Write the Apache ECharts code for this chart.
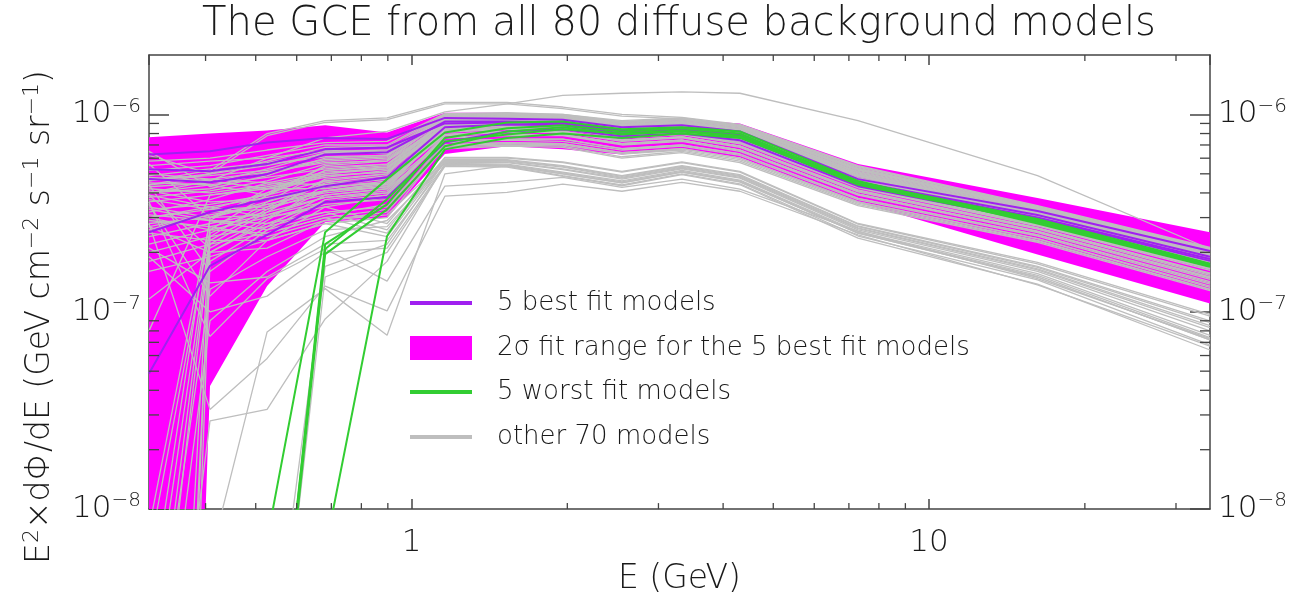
<!DOCTYPE html>
<html><head><meta charset="utf-8">
<script src="https://cdn.jsdelivr.net/npm/echarts@6/dist/echarts.min.js"></script>
<style>html,body{margin:0;padding:0;background:#fff}#c{width:1299px;height:601px}</style>
</head><body><div id="c"></div>
<script>
// values in units of 1e-7 GeV cm^-2 s^-1 sr^-1
const UNIT = 1e-7;
const energies = [0.311, 0.408, 0.526, 0.681, 0.897, 1.16, 1.53, 1.96, 2.55, 3.33, 4.31, 7.29, 16.2, 34.9];

const bestFitModels = [
  [6.27, 6.5, 7.2, 7.6, 7.5, 9.6, 9.5, 9.4, 8.6, 8.8, 8.2, 4.7, 3.24, 2.03],
  [4.7, 4.53, 4.98, 6.27, 6.43, 9.2, 9.2, 9.1, 8.3, 8.5, 7.9, 4.53, 3.09, 1.9],
  [2.53, 3.2, 3.72, 4.33, 4.8, 8.6, 8.9, 8.8, 8.0, 8.3, 7.65, 4.43, 2.98, 1.81],
  [0.486, 1.71, 2.45, 3.6, 3.8, 7.2, 8.2, 8.4, 7.75, 8.0, 7.4, 4.33, 2.88, 1.73],
  [5.27, 5.15, 5.6, 6.65, 6.8, 9.0, 9.1, 9.0, 8.2, 8.4, 7.8, 4.48, 3.0, 1.85]
];

const worstFitModels = [
  [0.001, 0.001, 0.07, 2.53, 4.7, 8.1, 9.1, 9.2, 8.4, 8.6, 8.2, 4.6, 2.8, 1.69],
  [0.001, 0.001, 0.004, 2.08, 3.72, 7.3, 7.9, 8.4, 8.0, 8.3, 7.8, 4.55, 2.95, 1.75],
  [0.001, 0.001, 0.004, 2.2, 3.5, 7.6, 8.5, 8.8, 8.2, 8.5, 8.0, 4.5, 2.9, 1.72],
  [0.001, 0.001, 0.0035, 1.96, 3.3, 6.9, 8.2, 8.6, 7.9, 8.2, 7.7, 4.4, 2.85, 1.7],
  [0.001, 0.001, 0.001, 0.062, 2.42, 6.65, 7.6, 8.0, 7.6, 8.0, 7.6, 4.5, 2.9, 1.74]
];

const otherModels = [
  [5.8, 6.0, 6.6, 7.2, 7.3, 10.1, 10.2, 10.0, 9.3, 9.6, 8.8, 5.4, 3.4, 2.1],
  [5.2, 5.5, 6.2, 7.0, 7.0, 10.0, 10.1, 9.9, 9.2, 9.5, 8.7, 5.35, 3.35, 2.08],
  [4.6, 5.0, 5.8, 6.8, 6.9, 9.8, 9.9, 9.8, 9.0, 9.3, 8.5, 5.2, 3.3, 2.05],
  [4.3, 4.5, 5.3, 6.4, 6.5, 9.7, 9.8, 9.7, 8.9, 9.2, 8.4, 5.15, 3.28, 2.02],
  [4.0, 4.2, 4.9, 6.0, 6.2, 9.5, 9.7, 9.6, 8.8, 9.1, 8.3, 5.0, 3.2, 2.0],
  [3.8, 4.1, 4.6, 5.6, 5.9, 9.4, 9.6, 9.5, 8.7, 9.0, 8.2, 4.95, 3.18, 1.97],
  [4.5, 4.4, 4.8, 5.3, 5.6, 9.3, 9.5, 9.4, 8.6, 8.9, 8.1, 4.9, 3.15, 1.95],
  [4.2, 4.0, 4.4, 5.0, 5.4, 9.2, 9.4, 9.3, 8.5, 8.8, 8.0, 4.85, 3.1, 1.93],
  [3.6, 3.9, 4.2, 4.8, 5.2, 9.0, 9.3, 9.2, 8.4, 8.7, 7.9, 4.75, 3.05, 1.9],
  [3.3, 3.5, 3.9, 4.6, 5.0, 8.9, 9.2, 9.1, 8.3, 8.6, 7.8, 4.7, 3.0, 1.86],
  [5.0, 4.7, 4.5, 4.4, 4.8, 8.8, 9.1, 9.0, 8.2, 8.5, 7.7, 4.6, 2.95, 1.8],
  [4.8, 4.6, 4.2, 4.2, 4.6, 8.7, 9.0, 8.9, 8.1, 8.4, 7.6, 4.55, 2.92, 1.78],
  [3.0, 3.4, 3.8, 4.3, 4.5, 8.5, 8.8, 8.8, 8.0, 8.3, 7.5, 4.45, 2.85, 1.72],
  [2.7, 3.1, 3.5, 4.0, 4.3, 8.4, 8.7, 8.7, 7.9, 8.2, 7.4, 4.4, 2.8, 1.7],
  [6.2, 5.0, 5.5, 6.3, 6.4, 9.8, 10.0, 9.8, 9.1, 9.4, 8.6, 5.25, 3.32, 2.06],
  [6.5, 4.3, 5.1, 5.8, 6.0, 9.6, 9.8, 9.6, 8.9, 9.2, 8.4, 5.05, 3.22, 2.0],
  [0.02, 2.4, 3.6, 5.2, 5.5, 9.3, 9.5, 9.4, 8.6, 8.9, 8.1, 4.9, 3.15, 1.95],
  [0.005, 2.2, 3.2, 4.7, 5.0, 9.0, 9.3, 9.2, 8.4, 8.7, 7.9, 4.75, 3.05, 1.9],
  [0.000001, 2.0, 2.9, 4.4, 4.7, 8.8, 9.1, 9.0, 8.2, 8.5, 7.7, 4.6, 2.95, 1.8],
  [0.06, 2.6, 3.9, 5.5, 5.8, 9.5, 9.7, 9.6, 8.8, 9.1, 8.3, 5.0, 3.2, 2.0],
  [0.00000001, 1.8, 2.7, 3.9, 4.2, 8.5, 8.8, 8.8, 8.0, 8.3, 7.5, 4.45, 2.85, 1.72],
  [0.01, 2.3, 3.3, 4.5, 4.9, 8.2, 8.5, 8.5, 7.7, 8.0, 7.2, 4.3, 2.75, 1.65],
  [0.08, 2.9, 4.2, 5.0, 5.3, 9.2, 9.4, 9.3, 8.5, 8.8, 8.0, 4.85, 3.1, 1.92],
  [0.0000001, 2.5, 3.4, 4.6, 4.4, 8.3, 8.6, 8.5, 7.8, 8.1, 7.3, 4.35, 2.78, 1.67],
  [3.9, 2.1, 3.0, 4.1, 4.4, 8.1, 8.4, 8.4, 7.6, 7.9, 7.1, 4.25, 2.72, 1.62],
  [4.4, 1.6, 2.6, 3.7, 4.0, 7.9, 8.2, 8.2, 7.4, 7.7, 6.9, 4.1, 2.65, 1.55],
  [3.5, 1.2, 2.3, 3.4, 3.8, 7.8, 8.1, 8.1, 7.3, 7.6, 6.8, 4.05, 2.62, 1.53],
  [1.16, 2.0, 2.8, 3.6, 3.9, 7.6, 7.9, 7.9, 7.1, 7.4, 6.6, 3.95, 2.55, 1.48],
  [0.80, 3.9, 4.3, 4.9, 5.1, 9.0, 9.2, 9.1, 8.3, 8.6, 7.8, 4.7, 3.02, 1.88],
  [2.4, 2.8, 3.2, 3.8, 4.1, 7.6, 7.8, 7.8, 7.0, 7.3, 6.5, 3.9, 2.52, 1.46],
  [2.2, 2.6, 3.0, 3.5, 3.7, 7.3, 7.5, 7.5, 6.7, 7.0, 6.3, 3.75, 2.45, 1.4],
  [2.0, 2.4, 2.7, 3.2, 3.4, 7.2, 7.4, 7.3, 6.6, 6.9, 6.2, 3.7, 2.42, 1.38],
  [1.8, 2.2, 2.5, 3.0, 3.3, 7.0, 7.2, 7.1, 6.4, 6.7, 6.0, 3.6, 2.35, 1.33],
  [1.6, 1.9, 2.3, 2.8, 3.0, 6.9, 7.1, 7.0, 6.3, 6.6, 5.9, 3.55, 2.3, 1.3],
  [4.7, 4.9, 5.2, 5.9, 6.1, 10.0, 10.1, 10.0, 9.2, 9.5, 8.7, 5.3, 3.38, 2.08],
  [4.9, 5.3, 5.7, 6.5, 6.6, 9.9, 10.0, 9.9, 9.1, 9.4, 8.6, 5.25, 3.34, 2.06],
  [5.5, 5.8, 6.0, 6.6, 6.3, 9.6, 9.8, 9.7, 8.9, 9.2, 8.4, 5.1, 3.25, 2.02],
  [3.2, 3.7, 4.5, 5.1, 5.3, 8.8, 9.1, 9.0, 8.2, 8.5, 7.7, 4.6, 2.95, 1.82],
  [3.0, 3.3, 4.0, 4.9, 5.1, 8.6, 8.9, 8.8, 8.0, 8.3, 7.5, 4.5, 2.88, 1.74],
  [2.8, 3.0, 3.6, 4.4, 4.7, 8.2, 8.5, 8.5, 7.7, 8.0, 7.2, 4.3, 2.75, 1.65],
  [2.6, 3.2, 3.3, 4.1, 4.5, 7.9, 8.2, 8.2, 7.4, 7.7, 6.9, 4.1, 2.65, 1.56],
  [4.1, 3.6, 3.7, 4.1, 4.3, 7.6, 7.9, 7.9, 7.1, 7.4, 6.6, 3.95, 2.55, 1.5],
  [3.7, 3.3, 3.4, 3.9, 4.2, 7.3, 7.5, 7.5, 6.7, 7.0, 6.3, 3.75, 2.45, 1.42],
  [3.4, 3.0, 3.1, 3.6, 3.9, 7.0, 7.2, 7.1, 6.4, 6.7, 6.0, 3.6, 2.35, 1.35],
  [0.03, 3.0, 3.5, 4.1, 4.5, 7.9, 8.2, 8.2, 7.4, 7.7, 6.9, 4.15, 2.66, 1.57],
  [0.00001, 2.7, 3.1, 3.8, 4.0, 7.6, 7.9, 7.9, 7.1, 7.4, 6.6, 3.95, 2.56, 1.49],
  [5.3, 5.1, 5.6, 6.1, 6.2, 9.3, 9.5, 9.4, 8.6, 8.9, 8.1, 4.9, 3.14, 1.96],
  [4.4, 4.7, 5.1, 5.7, 5.8, 9.0, 9.3, 9.2, 8.4, 8.7, 7.9, 4.75, 3.06, 1.9],
  [3.1, 2.9, 2.6, 3.1, 3.5, 6.7, 6.9, 6.8, 6.0, 6.4, 5.7, 3.45, 2.25, 1.28],
  [2.9, 2.7, 2.4, 2.9, 3.2, 6.8, 7.0, 6.9, 6.1, 6.5, 5.8, 3.5, 2.28, 1.3],
  [5.6, 3.0, 4.0, 5.4, 5.6, 8.8, 9.1, 9.0, 8.2, 8.5, 7.7, 4.6, 2.96, 1.81],
  [4.0, 4.4, 3.9, 5.2, 5.4, 8.5, 8.8, 8.8, 8.0, 8.3, 7.5, 4.45, 2.86, 1.73],
  [4.6, 5.2, 8.0, 9.3, 9.6, 11.5, 11.5, 10.9, 10.0, 9.65, 8.9, 5.5, 3.45, 2.12],
  [4.4, 5.0, 7.8, 9.1, 9.4, 11.3, 11.3, 10.7, 9.8, 9.5, 8.8, 5.45, 3.42, 2.1],
  [4.0, 4.6, 6.0, 7.6, 8.2, 10.3, 11.3, 12.5, 12.8, 13.0, 12.8, 9.3, 4.9, 2.08],
  [3.6, 0.75, 1.47, 2.08, 1.43, 4.33, 4.53, 4.8, 4.27, 4.7, 4.18, 2.56, 1.47, 0.73],
  [2.8, 0.32, 0.58, 1.35, 1.01, 3.85, 4.03, 4.43, 4.08, 4.53, 4.08, 2.45, 1.37, 0.67],
  [0.002, 0.056, 0.79, 1.31, 0.76, 5.0, 5.5, 5.0, 4.5, 5.1, 4.55, 2.5, 1.5, 0.72],
  [3.3, 2.9, 2.8, 3.2, 2.6, 6.0, 6.0, 5.7, 5.1, 5.7, 5.1, 2.78, 1.75, 0.95],
  [3.0, 2.6, 2.5, 3.0, 2.5, 5.9, 5.9, 5.5, 4.9, 5.5, 4.95, 2.72, 1.7, 0.9],
  [2.5, 2.3, 2.3, 2.8, 2.4, 5.8, 5.8, 5.4, 4.8, 5.4, 4.85, 2.66, 1.65, 0.85],
  [0.01, 1.3, 1.9, 2.6, 2.7, 5.7, 5.7, 5.25, 4.7, 5.3, 4.75, 2.6, 1.6, 0.8],
  [0.004, 0.9, 1.6, 2.4, 2.9, 5.65, 5.6, 5.1, 4.6, 5.2, 4.65, 2.55, 1.56, 0.76],
  [2.1, 1.4, 1.5, 2.2, 2.3, 5.55, 5.5, 5.0, 4.5, 5.1, 4.55, 2.5, 1.5, 0.72],
  [1.9, 1.0, 1.2, 2.0, 2.1, 5.5, 5.45, 4.9, 4.4, 5.0, 4.45, 2.42, 1.45, 0.68],
  [0.001, 0.001, 0.004, 1.5, 2.0, 5.45, 5.4, 4.85, 4.35, 4.95, 4.4, 2.36, 1.38, 0.64],
  [0.001, 0.001, 0.01, 1.7, 2.2, 5.8, 5.75, 5.3, 4.75, 5.35, 4.8, 2.64, 1.63, 0.83],
  [0.001, 0.28, 0.32, 0.92, 1.8, 5.6, 5.55, 5.05, 4.55, 5.15, 4.6, 2.52, 1.53, 0.74],
  [2.7, 2.0, 2.1, 2.9, 3.1, 5.85, 5.85, 5.45, 4.85, 5.45, 4.9, 2.7, 1.68, 0.88],
  [3.9, 3.4, 3.0, 3.4, 2.8, 6.05, 6.05, 5.75, 5.15, 5.75, 5.15, 2.8, 1.78, 0.97]
];

// 2 sigma fit range of the 5 best fit models
const bandUpper = [7.65, 8.0, 8.3, 8.8, 8.1, 10.2, 10.2, 10.0, 9.2, 9.43, 9.0, 5.6, 3.77, 2.53];
const bandLower = [1e-9, 0.42, 1.35, 2.85, 3.0, 6.3, 6.9, 6.65, 6.27, 6.65, 6.05, 3.6, 1.95, 1.1];

const xRange = [0.311, 34.9];
const yRange = [1e-8, 2e-6];
const xMinorTicks = [0.4, 0.5, 0.6, 0.7, 0.8, 0.9, 2, 3, 4, 5, 6, 7, 8, 9, 20, 30];
const yMinorTicks = [2e-8, 3e-8, 4e-8, 5e-8, 6e-8, 7e-8, 8e-8, 9e-8, 2e-7, 3e-7, 4e-7, 5e-7, 6e-7, 7e-7, 8e-7, 9e-7];

const titleText = 'The GCE from all 80 diffuse background models';
const xTitle = 'E (GeV)';
const yTitleRich = '{n|E}{s|2}{n|\u00D7d\u03A6/dE (GeV cm}{s|\u22122}{n| s}{s|\u22121}{n| sr}{s|\u22121}{n|)}';
const labelBest = '5 best fit models';
const labelBand = '2\u03C3 fit range for the 5 best fit models';
const labelWorst = '5 worst fit models';
const labelOther = 'other 70 models';

const C_BEST = '#A020F0', C_BAND = '#FF00FF', C_WORST = '#32CD32', C_OTHER = '#BEBEBE';
const AX = '#444';
const FONT = '"DejaVu Sans", sans-serif';
const TXT = '#1a1a1a';

function toPoints(vals) { return energies.map((e, i) => [e, vals[i] * UNIT]); }

function isPow10(v) {
  const l = Math.log10(v);
  return Math.abs(l - Math.round(l)) < 1e-6;
}
function yLabel(v) {
  if (!isPow10(v)) return '';
  const e = Math.round(Math.log10(v));
  return '{b|10}{s|' + (e < 0 ? '\u2212' : '') + Math.abs(e) + '}';
}
function xLabel(v) {
  if (!isPow10(v)) return '';
  return String(Math.round(v));
}

const richY = {
  b: { fontSize: 31, fontFamily: FONT, fontWeight: 200, color: TXT, lineHeight: 36 },
  s: { fontSize: 20, fontFamily: FONT, fontWeight: 200, color: TXT, verticalAlign: 'top', lineHeight: 20 }
};

const series = [];

// magenta band
series.push({
  type: 'custom', name: labelBand, z: 1, silent: true,
  data: [[1, 1e-7]],
  renderItem: function (params, api) {
    const cs = params.coordSys;
    const pts = [];
    for (let i = 0; i < energies.length; i++) pts.push(api.coord([energies[i], bandUpper[i] * UNIT]));
    for (let i = energies.length - 1; i >= 0; i--) pts.push(api.coord([energies[i], bandLower[i] * UNIT]));
    return {
      type: 'polygon', shape: { points: pts },
      style: { fill: C_BAND, stroke: null },
      clipPath: { type: 'rect', shape: { x: cs.x, y: cs.y, width: cs.width, height: cs.height } }
    };
  }
});

otherModels.forEach(m => series.push({
  type: 'line', name: labelOther, data: toPoints(m), symbol: 'none', silent: true, z: 2,
  lineStyle: { color: C_OTHER, width: 1.3 }
}));
bestFitModels.forEach(m => series.push({
  type: 'line', name: labelBest, data: toPoints(m), symbol: 'none', silent: true, z: 3,
  lineStyle: { color: C_BEST, width: 2 }
}));
worstFitModels.forEach(m => series.push({
  type: 'line', name: labelWorst, data: toPoints(m), symbol: 'none', silent: true, z: 4,
  lineStyle: { color: C_WORST, width: 2 }
}));

// minor ticks (x)
series.push({
  type: 'custom', silent: true, z: 6, data: xMinorTicks.map(v => [v, 1e-7]),
  renderItem: function (params, api) {
    const cs = params.coordSys;
    const x = api.coord([api.value(0), api.value(1)])[0];
    const st = { stroke: AX, lineWidth: 1.3 };
    return { type: 'group', children: [
      { type: 'line', shape: { x1: x, y1: cs.y + cs.height, x2: x, y2: cs.y + cs.height - 6 }, style: st },
      { type: 'line', shape: { x1: x, y1: cs.y, x2: x, y2: cs.y + 6 }, style: st }
    ]};
  }
});
// minor ticks (y)
series.push({
  type: 'custom', silent: true, z: 6, data: yMinorTicks.map(v => [1, v]),
  renderItem: function (params, api) {
    const cs = params.coordSys;
    const y = api.coord([api.value(0), api.value(1)])[1];
    const st = { stroke: AX, lineWidth: 1.3 };
    return { type: 'group', children: [
      { type: 'line', shape: { x1: cs.x, y1: y, x2: cs.x + 10, y2: y }, style: st },
      { type: 'line', shape: { x1: cs.x + cs.width, y1: y, x2: cs.x + cs.width - 10, y2: y }, style: st }
    ]};
  }
});

const legendRows = [
  { label: labelBest, kind: 'line', color: C_BEST, y: 303 },
  { label: labelBand, kind: 'rect', color: C_BAND, y: 348 },
  { label: labelWorst, kind: 'line', color: C_WORST, y: 392 },
  { label: labelOther, kind: 'line', color: C_OTHER, y: 437 }
];
const graphics = [];
legendRows.forEach(r => {
  if (r.kind === 'rect') {
    graphics.push({ type: 'rect', shape: { x: 410, y: r.y - 12, width: 62, height: 24 }, style: { fill: r.color }, z: 10 });
  } else {
    graphics.push({ type: 'line', shape: { x1: 410, y1: r.y, x2: 472, y2: r.y }, style: { stroke: r.color, lineWidth: 4 }, z: 10 });
  }
  graphics.push({ type: 'text', x: 497, y: r.y, z: 10,
    style: { text: r.label, fill: TXT, font: '200 26px ' + FONT, textAlign: 'left', textVerticalAlign: 'middle', align: 'left', verticalAlign: 'middle' } });
});
graphics.push({ type: 'text', x: 679, y: 25, z: 10,
  style: { text: titleText, fill: TXT, font: '200 40px ' + FONT,
    textAlign: 'center', textVerticalAlign: 'middle', align: 'center', verticalAlign: 'middle' } });
graphics.push({ type: 'text', x: 40, y: 317, rotation: Math.PI / 2, z: 10,
  style: { text: yTitleRich, fill: TXT, align: 'center', verticalAlign: 'middle', textAlign: 'center', textVerticalAlign: 'middle',
    rich: {
      n: { fontSize: 33, fontFamily: FONT, fontWeight: 200, fill: TXT, color: TXT, lineHeight: 38 },
      s: { fontSize: 22, fontFamily: FONT, fontWeight: 200, fill: TXT, color: TXT, verticalAlign: 'top', lineHeight: 22 }
    } } });

const axisLineStyle = { show: true, lineStyle: { color: AX, width: 1.5 } };

const option = {
  animation: false,
  backgroundColor: '#fff',
  grid: { left: 149, right: 89, top: 55, bottom: 90, containLabel: false },
  xAxis: [
    { type: 'log', logBase: 10, min: xRange[0], max: xRange[1], position: 'bottom',
      axisLine: axisLineStyle, splitLine: { show: false },
      axisTick: { inside: true, length: 10, lineStyle: { color: AX, width: 1.5 } },
      axisLabel: { formatter: xLabel, fontSize: 31, fontFamily: FONT, fontWeight: 200, color: TXT, margin: 18, showMinLabel: false, showMaxLabel: false },
      name: xTitle, nameLocation: 'middle', nameGap: 48,
      nameTextStyle: { fontSize: 33, fontFamily: FONT, fontWeight: 200, color: TXT } },
    { type: 'log', logBase: 10, min: xRange[0], max: xRange[1], position: 'top',
      axisLine: axisLineStyle, splitLine: { show: false },
      axisTick: { inside: true, length: 10, lineStyle: { color: AX, width: 1.5 } },
      axisLabel: { show: false } }
  ],
  yAxis: [
    { type: 'log', logBase: 10, min: yRange[0], max: yRange[1], position: 'left',
      axisLine: axisLineStyle, splitLine: { show: false },
      axisTick: { inside: true, length: 20, lineStyle: { color: AX, width: 1.5 } },
      axisLabel: { formatter: yLabel, rich: richY, margin: 8, showMaxLabel: false } },
    { type: 'log', logBase: 10, min: yRange[0], max: yRange[1], position: 'right',
      axisLine: axisLineStyle, splitLine: { show: false },
      axisTick: { inside: true, length: 20, lineStyle: { color: AX, width: 1.5 } },
      axisLabel: { formatter: yLabel, rich: richY, margin: 8, showMaxLabel: false } }
  ],
  graphic: graphics,
  series: series
};

const chart = echarts.init(document.getElementById('c'), null, { renderer: 'canvas' });
chart.setOption(option);
</script>
</body></html>
